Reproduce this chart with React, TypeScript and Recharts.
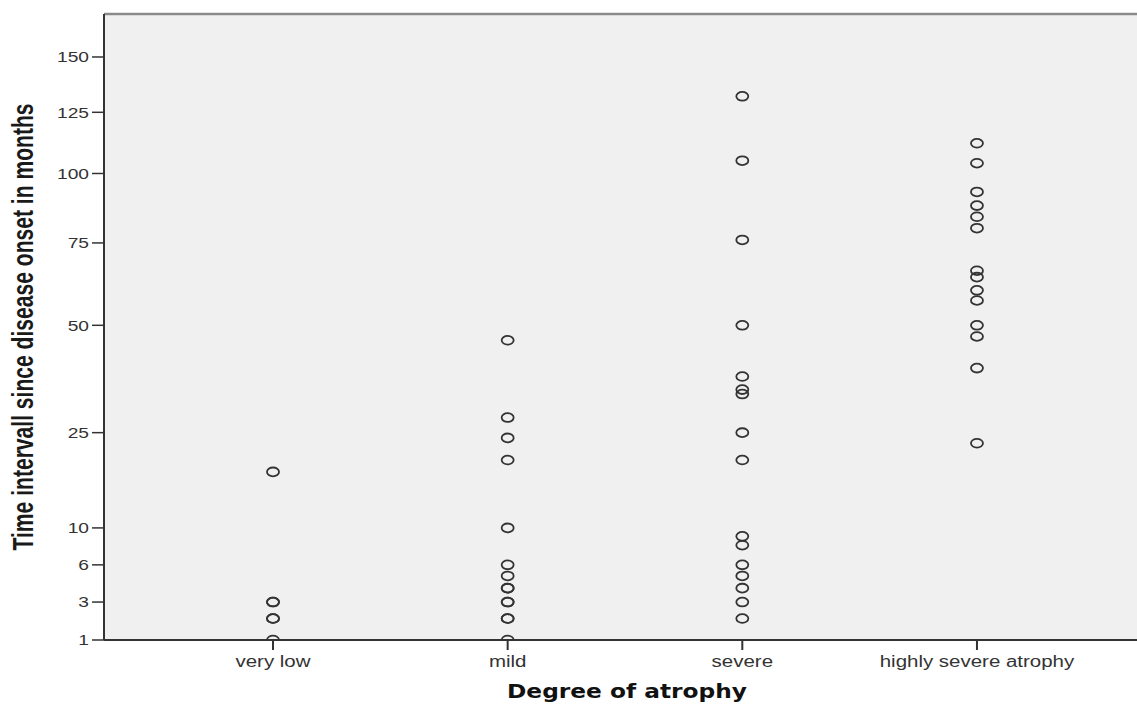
import React from "react";
import {
  ScatterChart,
  Scatter,
  XAxis,
  YAxis,
  CartesianGrid,
  ReferenceLine,
} from "recharts";

const categories = ["very low", "mild", "severe", "highly severe atrophy"];
const veryLowValues = [18, 3, 3, 2, 2, 1];
const mildValues = [46, 28, 24, 20, 10, 6, 5, 4, 4, 3, 3, 2, 2, 1];
const severeValues = [132, 105, 76, 50, 37, 34, 33, 25, 20, 9, 8, 6, 5, 4, 3, 2];
const highlySevereValues = [112, 104, 93, 88, 84, 80, 66, 64, 60, 57, 50, 47, 39, 23];
const yTicks = [1, 3, 6, 10, 25, 50, 75, 100, 125, 150];

const seriesValues = [veryLowValues, mildValues, severeValues, highlySevereValues];
const seriesData = seriesValues.map((vals, i) =>
  vals.map((v) => ({ x: i + 1, y: v }))
);

const W = 1137;
const H = 704;

const Marker = (props: any) => {
  const { cx, cy } = props;
  if (cx == null || cy == null) return null;
  return (
    <ellipse
      cx={cx}
      cy={cy}
      rx={6}
      ry={4.4}
      fill="none"
      stroke="#333"
      strokeWidth={1.8}
    />
  );
};

const YTick = (props: any) => {
  const { x, y, payload } = props;
  return (
    <g transform={`translate(${x},${y})`}>
      <text
        transform="scale(1.28,1)"
        textAnchor="end"
        dy="0.36em"
        fontSize={15}
        fill="#333"
        fontFamily="'Liberation Sans', Arial, sans-serif"
      >
        {payload.value}
      </text>
    </g>
  );
};

const XTick = (props: any) => {
  const { x, y, payload } = props;
  return (
    <g transform={`translate(${x},${y})`}>
      <text
        transform="scale(1.28,1)"
        textAnchor="middle"
        dy={15}
        fontSize={16}
        fill="#333"
        fontFamily="'Liberation Sans', Arial, sans-serif"
      >
        {categories[payload.value - 1]}
      </text>
    </g>
  );
};

export default function App() {
  return (
    <div
      style={{
        position: "fixed",
        left: 0,
        top: 0,
        width: W,
        height: H,
        background: "#fff",
        overflow: "hidden",
      }}
    >
      <ScatterChart
        width={W}
        height={H}
        margin={{ top: 14, right: 0, bottom: 0, left: 0 }}
      >
        <CartesianGrid
          fill="#f0f0f0"
          horizontal={false}
          vertical={false}
          stroke="none"
        />
        <XAxis
          type="number"
          dataKey="x"
          domain={[0.2798, 4.682]}
          ticks={[1, 2, 3, 4]}
          allowDataOverflow
          height={64}
          tickSize={10}
          tickMargin={2}
          tick={<XTick />}
          axisLine={{ stroke: "#333", strokeWidth: 2 }}
          tickLine={{ stroke: "#333", strokeWidth: 2 }}
        />
        <YAxis
          type="number"
          dataKey="y"
          scale="sqrt"
          domain={[1, 171]}
          ticks={yTicks}
          allowDataOverflow
          width={104}
          tickSize={12}
          tickMargin={3}
          tick={<YTick />}
          axisLine={{ stroke: "#333", strokeWidth: 2 }}
          tickLine={{ stroke: "#333", strokeWidth: 1.5 }}
        />
        <ReferenceLine y={171} stroke="#8a8a8a" strokeWidth={2.5} />
        {seriesData.map((d, i) => (
          <Scatter
            key={categories[i]}
            data={d}
            shape={Marker}
            isAnimationActive={false}
          />
        ))}
      </ScatterChart>
      <svg
        width={W}
        height={H}
        style={{ position: "absolute", left: 0, top: 0, pointerEvents: "none" }}
      >
        <text
          transform="translate(33,327) scale(1.3,1) rotate(-90)"
          textAnchor="middle"
          fontSize={22}
          fontWeight="bold"
          fill="#1a1a1a"
          fontFamily="'Liberation Sans Narrow', 'Arial Narrow', 'Liberation Sans', sans-serif"
          textLength={447}
          lengthAdjust="spacingAndGlyphs"
        >
          Time intervall since disease onset in months
        </text>
        <text
          x={627}
          y={698}
          textAnchor="middle"
          fontSize={20}
          fontWeight="bold"
          fill="#111"
          fontFamily="'DejaVu Sans', 'Liberation Sans', sans-serif"
          textLength={240}
          lengthAdjust="spacingAndGlyphs"
        >
          Degree of atrophy
        </text>
      </svg>
    </div>
  );
}
